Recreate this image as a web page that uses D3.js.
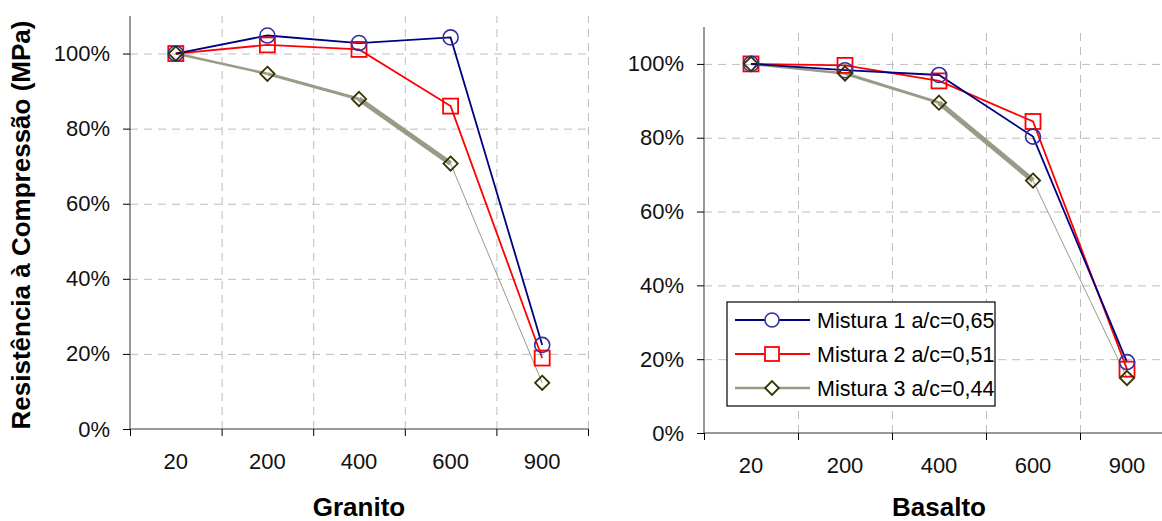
<!DOCTYPE html>
<html>
<head>
    <title></title>
    <meta charset="utf-8">
    <style>
        body { margin: 0; background: #fff; }
        svg { font-family: "Liberation Sans", Arial, sans-serif; display: block; }
        .grid line { stroke: #bdbdbd; stroke-dasharray: 8 6; }
        .grid path { display: none; }
    </style>
</head>
<body>
<script src="https://d3js.org/d3.v7.min.js"></script>
<script>
    // temperatures (categories) and relative strength per mix
    var temps = ['20', '200', '400', '600', '900'];
    var yTicks = [0, 0.2, 0.4, 0.6, 0.8, 1.0];
    var seriesNames = ['Mistura 1 a/c=0,65', 'Mistura 2 a/c=0,51', 'Mistura 3 a/c=0,44'];

    var granitoM1 = [1.000, 1.048, 1.028, 1.043, 0.224];
    var granitoM2 = [1.000, 1.023, 1.011, 0.860, 0.189];
    var granitoM3 = [1.000, 0.946, 0.879, 0.707, 0.123];

    var basaltoM1 = [1.000, 0.983, 0.970, 0.803, 0.192];
    var basaltoM2 = [1.000, 0.996, 0.954, 0.844, 0.173];
    var basaltoM3 = [1.000, 0.974, 0.895, 0.684, 0.149];

    var svg = d3.select('body').append('svg')
        .attr('width', 1162)
        .attr('height', 521);

    // y axis title (shared)
    svg.append('text')
        .attr('transform', 'translate(30,225) rotate(-90)')
        .attr('text-anchor', 'middle')
        .style('font-weight', 'bold')
        .style('font-size', '26px')
        .text('Resistência à Compressão (MPa)');

    function drawPanel(left, top, bottom, bandW, title, data) {
        var width = bandW * temps.length;
        var g = svg.append('g');

        var x = d3.scaleBand().domain(temps).range([left, left + width]);
        var xb = d3.scaleLinear().domain([0, temps.length]).range([left, left + width]);
        var y = d3.scaleLinear().domain([0, 1.1]).range([bottom, top]);
        var cx = function (i) { return x(temps[i]) + x.bandwidth() / 2; };

        // grid
        g.append('g').attr('class', 'grid')
            .attr('transform', 'translate(' + left + ',0)')
            .call(d3.axisLeft(y).tickValues(yTicks.slice(1)).tickSize(-width).tickFormat(''));
        g.append('g').attr('class', 'grid')
            .attr('transform', 'translate(0,' + bottom + ')')
            .call(d3.axisBottom(xb).tickValues(d3.range(1, temps.length + 1)).tickSize(-(bottom - top)).tickFormat(''));

        // y axis
        var ya = g.append('g')
            .attr('transform', 'translate(' + left + ',0)')
            .call(d3.axisLeft(y).tickValues(yTicks).tickSize(7).tickPadding(13).tickFormat(d3.format('.0%')));
        ya.select('.domain').attr('d', 'M0,' + top + 'V' + bottom).attr('stroke', '#777').attr('stroke-width', 1.5);
        ya.selectAll('text').style('font-size', '22px').attr('fill', '#111');

        // x axis: ticks between categories, labels at centres
        var xa = g.append('g')
            .attr('transform', 'translate(0,' + bottom + ')')
            .call(d3.axisBottom(xb).tickValues(d3.range(0, temps.length + 1)).tickSize(7).tickFormat(''));
        xa.select('.domain').attr('d', 'M' + left + ',0H' + (left + width)).attr('stroke', '#777').attr('stroke-width', 1.5);

        var xl = g.append('g')
            .attr('transform', 'translate(0,' + bottom + ')')
            .call(d3.axisBottom(x).tickSize(0).tickPadding(24));
        xl.select('.domain').remove();
        xl.selectAll('text').style('font-size', '22px').attr('fill', '#111');

        g.append('text')
            .attr('x', left + width / 2)
            .attr('y', 516)
            .attr('text-anchor', 'middle')
            .style('font-weight', 'bold')
            .style('font-size', '26px')
            .text(title);

        // Mistura 3: segments of varying weight, as in the original
        var segW = [2.5, 3, 5, 1];
        var m3 = data[2];
        g.selectAll('.seg3').data(d3.range(m3.length - 1)).enter().append('line')
            .attr('x1', function (i) { return cx(i); })
            .attr('y1', function (i) { return y(m3[i]); })
            .attr('x2', function (i) { return cx(i + 1); })
            .attr('y2', function (i) { return y(m3[i + 1]); })
            .attr('stroke', '#9a9a86')
            .attr('stroke-width', function (i) { return segW[i]; });

        var line = d3.line()
            .x(function (d, i) { return cx(i); })
            .y(function (d) { return y(d); });

        g.append('path').datum(data[1]).attr('d', line)
            .attr('fill', 'none').attr('stroke', '#ff0000').attr('stroke-width', 1.8);
        g.append('path').datum(data[0]).attr('d', line)
            .attr('fill', 'none').attr('stroke', '#000080').attr('stroke-width', 1.8);

        // markers
        g.selectAll('.sq').data(data[1]).enter().append('rect')
            .attr('x', function (d, i) { return cx(i) - 7.5; })
            .attr('y', function (d) { return y(d) - 7.5; })
            .attr('width', 15).attr('height', 15)
            .attr('fill', 'none').attr('stroke', '#ff0000').attr('stroke-width', 1.8);
        g.selectAll('.ci').data(data[0]).enter().append('circle')
            .attr('cx', function (d, i) { return cx(i); })
            .attr('cy', function (d) { return y(d); })
            .attr('r', 7.5)
            .attr('fill', 'none').attr('stroke', '#3030a0').attr('stroke-width', 1.6);
        g.selectAll('.di').data(m3).enter().append('path')
            .attr('d', d3.symbol().type(d3.symbolDiamond2).size(130))
            .attr('transform', function (d, i) {
                return 'translate(' + cx(i) + ',' + y(d) + ')';
            })
            .attr('fill', 'none').attr('stroke', '#333300').attr('stroke-width', 1.8);
    }

    drawPanel(130, 16, 429, 91.6, 'Granito', [granitoM1, granitoM2, granitoM3]);
    drawPanel(704, 27, 433, 94, 'Basalto', [basaltoM1, basaltoM2, basaltoM3]);

    // legend
    var lg = svg.append('g').attr('transform', 'translate(727,302)');
    lg.append('rect').attr('width', 268).attr('height', 104)
        .attr('fill', '#fff').attr('stroke', '#000').attr('stroke-width', 1.2);
    var colors = ['#000080', '#ff0000', '#9a9a86'];
    var mk = ['#3030a0', '#ff0000', '#333300'];
    seriesNames.forEach(function (name, i) {
        var cy = 18 + i * 34;
        lg.append('line').attr('x1', 8).attr('x2', 83).attr('y1', cy).attr('y2', cy)
            .attr('stroke', colors[i]).attr('stroke-width', i === 2 ? 2.5 : 1.8);
        if (i === 0) {
            lg.append('circle').attr('cx', 45).attr('cy', cy).attr('r', 7)
                .attr('fill', '#fff').attr('stroke', mk[i]).attr('stroke-width', 1.6);
        } else if (i === 1) {
            lg.append('rect').attr('x', 38).attr('y', cy - 7).attr('width', 14).attr('height', 14)
                .attr('fill', '#fff').attr('stroke', mk[i]).attr('stroke-width', 1.8);
        } else {
            lg.append('path').attr('d', d3.symbol().type(d3.symbolDiamond2).size(120))
                .attr('transform', 'translate(45,' + cy + ')')
                .attr('fill', '#fff').attr('stroke', mk[i]).attr('stroke-width', 1.8);
        }
        lg.append('text').attr('x', 90).attr('y', cy).attr('dy', '0.36em')
            .style('font-size', '21.5px').text(name);
    });
</script>
</body>
</html>
